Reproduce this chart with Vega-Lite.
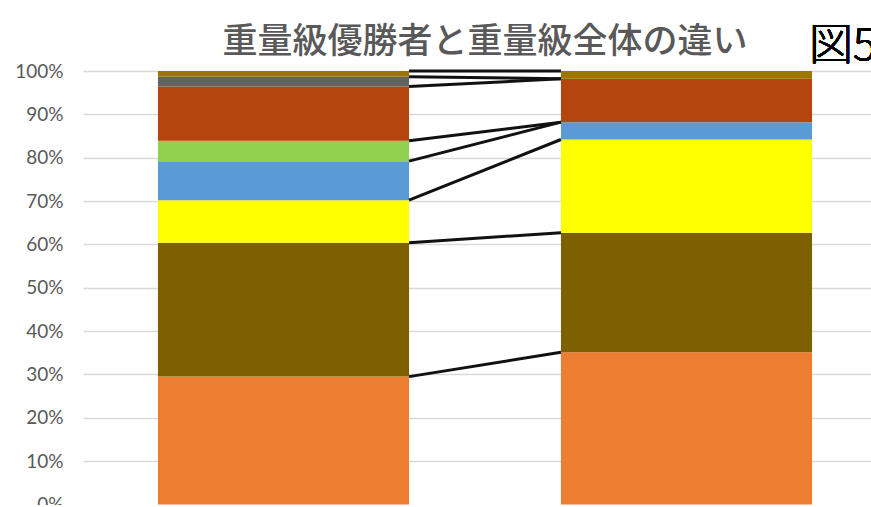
{
  "$schema": "https://vega.github.io/schema/vega-lite/v6.json",
  "width": 804,
  "height": 433.5,
  "autosize": "none",
  "padding": {"left": 83, "top": 71, "right": 0, "bottom": 0},
  "background": "white",
  "config": {"view": {"stroke": null}},
  "title": {
    "text": "重量級優勝者と重量級全体の違い",
    "font": "Noto Sans CJK JP",
    "fontSize": 35,
    "fontWeight": 500,
    "color": "#595959",
    "anchor": "middle",
    "offset": 12,
    "dy": 47
  },
  "data": {
    "values": [
      {"bar": "優勝者", "seg": "A", "k": 1, "value": 29.5},
      {"bar": "優勝者", "seg": "B", "k": 2, "value": 30.9},
      {"bar": "優勝者", "seg": "C", "k": 3, "value": 9.8},
      {"bar": "優勝者", "seg": "D", "k": 4, "value": 9.0},
      {"bar": "優勝者", "seg": "E", "k": 5, "value": 4.7},
      {"bar": "優勝者", "seg": "F", "k": 6, "value": 12.5},
      {"bar": "優勝者", "seg": "G", "k": 7, "value": 2.3},
      {"bar": "優勝者", "seg": "H", "k": 8, "value": 1.3},
      {"bar": "全体", "seg": "A", "k": 1, "value": 35.1},
      {"bar": "全体", "seg": "B", "k": 2, "value": 27.6},
      {"bar": "全体", "seg": "C", "k": 3, "value": 21.5},
      {"bar": "全体", "seg": "D", "k": 4, "value": 4.0},
      {"bar": "全体", "seg": "E", "k": 5, "value": 0},
      {"bar": "全体", "seg": "F", "k": 6, "value": 10.0},
      {"bar": "全体", "seg": "G", "k": 7, "value": 0},
      {"bar": "全体", "seg": "H", "k": 8, "value": 1.8}
    ]
  },
  "layer": [
    {
      "mark": {"type": "bar"},
      "encoding": {
        "x": {
          "field": "bar",
          "type": "nominal",
          "scale": {"domain": ["優勝者", "全体"], "paddingInner": 0.377, "paddingOuter": 0.186},
          "axis": null
        },
        "y": {
          "field": "value",
          "type": "quantitative",
          "stack": "zero",
          "scale": {"domain": [0, 100], "nice": false},
          "axis": {
            "values": [0, 10, 20, 30, 40, 50, 60, 70, 80, 90, 100],
            "labelExpr": "datum.value + '%'",
            "domain": false,
            "ticks": false,
            "labelPadding": 20,
            "labelFont": "Lato",
            "labelFontSize": 19,
            "labelColor": "#595959",
            "gridColor": "#D9D9D9",
            "gridWidth": 1.5,
            "title": null
          }
        },
        "color": {
          "field": "seg",
          "type": "nominal",
          "scale": {
            "domain": ["A", "B", "C", "D", "E", "F", "G", "H"],
            "range": ["#ED7D31", "#7F6000", "#FFFF00", "#5B9BD5", "#92D050", "#B5450F", "#636363", "#9C7700"]
          },
          "legend": null
        },
        "order": {"field": "k", "type": "quantitative"}
      }
    },
    {
      "transform": [
        {"stack": "value", "groupby": ["bar"], "sort": [{"field": "k", "order": "ascending"}], "as": ["v0", "v1"]},
        {"pivot": "bar", "value": "v1", "groupby": ["seg"]}
      ],
      "mark": {"type": "rule", "color": "#111111", "strokeWidth": 3},
      "encoding": {
        "x": {"datum": "優勝者", "bandPosition": 1},
        "x2": {"datum": "全体", "bandPosition": 0},
        "y": {"field": "優勝者", "type": "quantitative"},
        "y2": {"field": "全体"}
      }
    },
    {
      "mark": {
        "type": "text",
        "font": "Noto Sans CJK JP",
        "fontSize": 44,
        "fontWeight": 300,
        "color": "#000000",
        "align": "left",
        "baseline": "middle",
        "dx": -3,
        "dy": -24
      },
      "encoding": {
        "x": {"datum": "全体", "bandPosition": 1},
        "y": {"datum": 100},
        "text": {"value": "図5"}
      }
    }
  ]
}
